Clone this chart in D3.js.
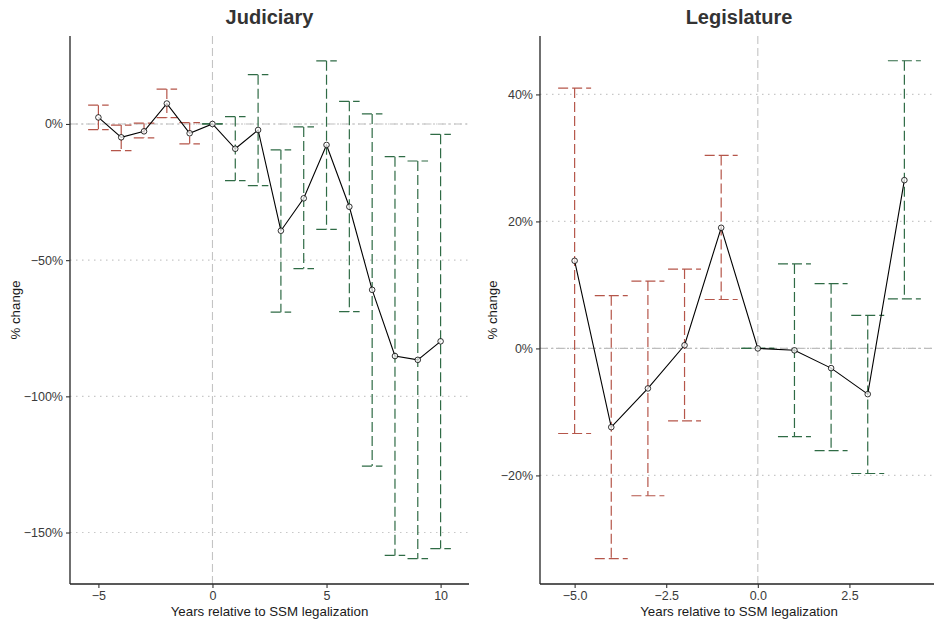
<!DOCTYPE html>
<html>
<head>
<meta charset="utf-8">
<title>Judiciary / Legislature</title>
<script src="https://cdn.jsdelivr.net/npm/d3@7"></script>
<style>
  body { margin: 0; background: #fff; }
  svg text { font-family: "Liberation Sans", Arial, Helvetica, sans-serif; }
</style>
</head>
<body>
<script>
// years relative to SSM legalization
var judYears = [-5, -4, -3, -2, -1, 0, 1, 2, 3, 4, 5, 6, 7, 8, 9, 10];
var judEst  = [2.4, -4.9, -2.7, 7.5, -3.4, 0, -9.1, -2.2, -39.2, -27.3, -7.7, -30.4, -60.9, -85.2, -86.6, -79.8];
var judLow  = [-2.1, -9.8, -5.1, 2.3, -7.3, 0, -20.8, -22.6, -69.1, -53.1, -38.7, -68.9, -125.6, -158.4, -159.6, -155.9];
var judHigh = [6.9, -0.4, 0.3, 12.8, 0.5, 0, 2.7, 18.1, -9.5, -1.1, 23.2, 8.3, 3.7, -12.0, -13.6, -3.8];
var judYTicks = [0, -50, -100, -150];
var judXTicks = [-5, 0, 5, 10];

var legYears = [-5, -4, -3, -2, -1, 0, 1, 2, 3, 4];
var legEst  = [13.8, -12.4, -6.3, 0.5, 19.0, 0, -0.3, -3.1, -7.2, 26.5];
var legLow  = [-13.4, -33.1, -23.2, -11.4, 7.7, 0, -13.9, -16.1, -19.7, 7.8];
var legHigh = [41.0, 8.3, 10.6, 12.5, 30.4, 0, 13.3, 10.2, 5.2, 45.3];
var legYTicks = [40, 20, 0, -20];
var legXTicks = [-5, -2.5, 0, 2.5];

var preColor = "#b5564a", postColor = "#2f6b45";
var capHalf = 0.45;

var svg = d3.select("body").append("svg")
    .attr("width", 934)
    .attr("height", 626);

function minus(s) { return s.replace("-", "\u2212"); }

function panel(opt) {
    var x = d3.scaleLinear().domain(opt.xDomain).range([opt.left, opt.right]);
    var y = d3.scaleLinear().domain(opt.yDomain).range([584, 36]);
    var g = svg.append("g");

    var rows = opt.years.map(function(d, i) {
        return {x: d, est: opt.est[i], lo: opt.low[i], hi: opt.high[i]};
    });

    // dotted grid
    g.selectAll("line.grid").data(opt.yTicks).enter().append("line")
        .attr("class", "grid")
        .attr("x1", opt.left).attr("x2", opt.right)
        .attr("y1", function(d) { return y(d); }).attr("y2", function(d) { return y(d); })
        .attr("stroke", "#c8c8c8").attr("stroke-width", 1.1)
        .attr("stroke-dasharray", "1.5,4.5");

    // reference lines
    g.append("line")
        .attr("x1", opt.left).attr("x2", opt.right)
        .attr("y1", y(0)).attr("y2", y(0))
        .attr("stroke", "#bdbdbd").attr("stroke-width", 1.1)
        .attr("stroke-dasharray", "8,3,2,3");
    g.append("line")
        .attr("x1", x(0)).attr("x2", x(0))
        .attr("y1", 36).attr("y2", 584)
        .attr("stroke", "#c4c4c4").attr("stroke-width", 1.1)
        .attr("stroke-dasharray", "8,4");

    // error bars, each piece dashed on its own
    var bars = g.selectAll("g.bar").data(rows).enter().append("g")
        .attr("class", "bar")
        .attr("stroke", function(d) { return d.x < 0 ? preColor : postColor; })
        .attr("stroke-width", 1.2)
        .attr("stroke-dasharray", "10,4")
        .attr("fill", "none");
    bars.append("line")
        .attr("x1", function(d) { return x(d.x - capHalf); })
        .attr("x2", function(d) { return x(d.x + capHalf); })
        .attr("y1", function(d) { return y(d.hi); })
        .attr("y2", function(d) { return y(d.hi); });
    bars.append("line")
        .attr("x1", function(d) { return x(d.x); })
        .attr("x2", function(d) { return x(d.x); })
        .attr("y1", function(d) { return y(d.hi); })
        .attr("y2", function(d) { return y(d.lo); });
    bars.append("line")
        .attr("x1", function(d) { return x(d.x - capHalf); })
        .attr("x2", function(d) { return x(d.x + capHalf); })
        .attr("y1", function(d) { return y(d.lo); })
        .attr("y2", function(d) { return y(d.lo); });

    // estimate line + points
    var line = d3.line()
        .x(function(d) { return x(d.x); })
        .y(function(d) { return y(d.est); });
    g.append("path").datum(rows)
        .attr("d", line)
        .attr("fill", "none").attr("stroke", "#000").attr("stroke-width", 1.1);
    g.selectAll("circle").data(rows).enter().append("circle")
        .attr("cx", function(d) { return x(d.x); })
        .attr("cy", function(d) { return y(d.est); })
        .attr("r", 2.8)
        .attr("fill", "#fff").attr("fill-opacity", 0.75)
        .attr("stroke", "#000").attr("stroke-width", 0.8);

    // axes
    var ax = d3.axisBottom(x).tickValues(opt.xTicks).tickSize(4).tickPadding(3)
        .tickFormat(function(d) { return minus(opt.xFmt(d)); });
    var gx = g.append("g").attr("transform", "translate(0,584)").call(ax);
    var ay = d3.axisLeft(y).tickValues(opt.yTicks).tickSize(4).tickPadding(3)
        .tickFormat(function(d) { return minus(d + "%"); });
    var gy = g.append("g").attr("transform", "translate(" + opt.left + ",0)").call(ay);
    [gx, gy].forEach(function(a) {
        a.select(".domain").attr("stroke", "#222").attr("stroke-width", 1.3)
            .attr("d", a === gx ? "M" + opt.left + ",0H" + opt.right : "M0,36V584");
        a.selectAll(".tick line").attr("stroke", "#333").attr("stroke-width", 1.1);
        a.selectAll(".tick text")
            .style("fill", "#3a3a3a")
            .attr("font-size", 12.5)
            .attr("font-family", "Liberation Sans, Arial, sans-serif");
    });

    // titles
    var cx = (opt.left + Math.min(opt.right, 934)) / 2;
    if (opt.titleX) cx = opt.titleX;
    g.append("text")
        .attr("x", cx).attr("y", 24)
        .attr("text-anchor", "middle")
        .attr("font-size", 20).attr("font-weight", "bold").attr("fill", "#333")
        .text(opt.title);
    g.append("text")
        .attr("x", cx).attr("y", 616)
        .attr("text-anchor", "middle")
        .attr("font-size", 13.3).attr("fill", "#1a1a1a")
        .text("Years relative to SSM legalization");
    g.append("text")
        .attr("transform", "translate(" + opt.yLabX + ",310) rotate(-90)")
        .attr("text-anchor", "middle")
        .attr("font-size", 13.3).attr("fill", "#1a1a1a")
        .text("% change");
}

panel({
    title: "Judiciary", years: judYears, est: judEst, low: judLow, high: judHigh,
    xDomain: [-6.245, 11.245], yDomain: [-168.9, 32.3],
    left: 70, right: 469, yLabX: 20,
    xTicks: judXTicks, yTicks: judYTicks,
    xFmt: function(d) { return String(d); }
});

panel({
    title: "Legislature", years: legYears, est: legEst, low: legLow, high: legHigh,
    xDomain: [-5.945, 4.945], yDomain: [-37.1, 49.2],
    left: 540, right: 939, yLabX: 497, titleX: 739,
    xTicks: legXTicks, yTicks: legYTicks,
    xFmt: function(d) { return d3.format(".1f")(d); }
});
</script>
</body>
</html>
